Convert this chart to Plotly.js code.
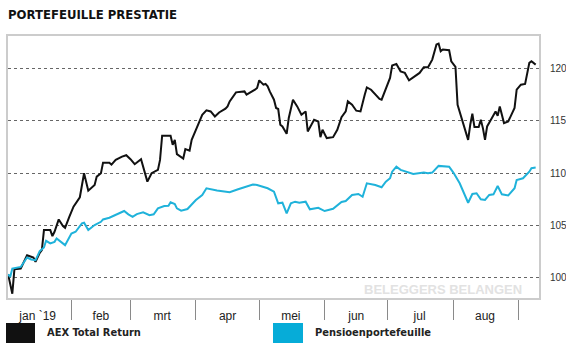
<!DOCTYPE html>
<html>
<head>
<meta charset="utf-8">
<script src="https://cdn.plot.ly/plotly-3.0.1.min.js"></script>
<style>
html,body{margin:0;padding:0;background:#fff;}
#chart{width:566px;height:351px;}
</style>
</head>
<body>
<div id="chart"></div>
<script>
const chartTitle = "PORTEFEUILLE PRESTATIE";
const seriesNames = ["AEX Total Return", "Pensioenportefeuille"];
const watermark = "BELEGGERS BELANGEN";

const monthStarts = ["2019-02-01","2019-03-01","2019-04-01","2019-05-01","2019-06-01","2019-07-01","2019-08-01","2019-09-01"];
const monthLabelDates = ["2019-01-16","2019-02-15","2019-03-16","2019-04-16","2019-05-16","2019-06-16","2019-07-16","2019-08-16"];
const monthLabels = ["jan `19","feb","mrt","apr","mei","jun","jul","aug"];
const yTicks = [100,105,110,115,120];

const aexDates = [
"2019-01-02","2019-01-04","2019-01-05","2019-01-08","2019-01-11","2019-01-14","2019-01-15","2019-01-17","2019-01-18","2019-01-19","2019-01-22","2019-01-23","2019-01-24","2019-01-26","2019-01-28","2019-01-29","2019-01-31",
"2019-02-02","2019-02-05","2019-02-07","2019-02-09","2019-02-12","2019-02-13","2019-02-15","2019-02-16","2019-02-19","2019-02-20","2019-02-22","2019-02-25","2019-02-27",
"2019-03-01","2019-03-03","2019-03-06","2019-03-07","2019-03-09","2019-03-11","2019-03-14","2019-03-15","2019-03-16","2019-03-20","2019-03-21","2019-03-22","2019-03-23","2019-03-26","2019-03-27","2019-03-29","2019-03-30",
"2019-04-01","2019-04-04","2019-04-06","2019-04-08","2019-04-10","2019-04-12","2019-04-15","2019-04-16","2019-04-17","2019-04-20","2019-04-24","2019-04-25","2019-04-29","2019-04-30",
"2019-05-01","2019-05-03","2019-05-04","2019-05-05","2019-05-06","2019-05-08","2019-05-09","2019-05-10","2019-05-11","2019-05-12","2019-05-14","2019-05-15","2019-05-17","2019-05-19","2019-05-21","2019-05-23","2019-05-24","2019-05-26","2019-05-27","2019-05-29","2019-05-30","2019-05-31",
"2019-06-02","2019-06-05","2019-06-06","2019-06-07","2019-06-09","2019-06-11","2019-06-12","2019-06-14","2019-06-16","2019-06-18","2019-06-20","2019-06-21","2019-06-23","2019-06-25","2019-06-27","2019-06-28","2019-06-30",
"2019-07-02","2019-07-03","2019-07-05","2019-07-07","2019-07-09","2019-07-11","2019-07-14","2019-07-16","2019-07-18","2019-07-20","2019-07-22","2019-07-24","2019-07-25","2019-07-26","2019-07-27","2019-07-30","2019-07-31",
"2019-08-02","2019-08-03","2019-08-06","2019-08-08","2019-08-09","2019-08-10","2019-08-11","2019-08-13","2019-08-14","2019-08-15","2019-08-16","2019-08-17","2019-08-19","2019-08-21","2019-08-22","2019-08-23","2019-08-25","2019-08-27","2019-08-30","2019-08-31",
"2019-09-02","2019-09-04","2019-09-06","2019-09-07","2019-09-09"
];
const aexValues = [
100.35,98.5,100.83,100.9,102.17,101.95,101.53,102.39,102.65,104.56,104.56,103.99,104.40,105.58,104.94,104.78,105.83,
106.79,107.69,109.98,108.32,108.86,109.66,109.98,110.99,110.99,110.80,111.25,111.57,111.70,
111.32,110.84,111.32,110.68,109.18,109.98,110.30,111.25,113.55,113.55,112.69,113.16,111.80,111.38,112.28,112.14,113.16,
114.12,115.55,115.97,115.87,115.39,115.77,116.13,116.35,116.83,117.69,117.78,117.47,117.94,118.11,
118.83,118.42,118.49,118.26,117.78,116.99,116.20,116.10,114.60,114.44,113.74,115.24,116.99,116.35,115.55,115.87,113.96,114.69,115.08,114.91,113.42,114.12,
113.33,113.42,113.80,114.12,115.33,115.87,116.83,116.51,115.94,115.87,117.47,118.16,117.94,117.47,117.06,116.99,117.94,
119.06,120.24,120.40,119.69,119.54,118.83,119.22,119.54,120.08,120.08,120.81,122.25,122.34,121.61,121.77,121.70,120.65,
120.11,116.51,114.44,113.16,114.60,115.65,114.38,114.38,115.08,114.28,113.16,114.44,115.14,115.87,115.46,116.35,114.76,114.91,116.20,117.94,
118.42,118.49,120.50,120.65,120.33
];

const pensDates = [
"2019-01-02","2019-01-03","2019-01-04","2019-01-08","2019-01-11","2019-01-13","2019-01-15","2019-01-17","2019-01-19","2019-01-20","2019-01-22","2019-01-24","2019-01-25","2019-01-29",
"2019-02-01","2019-02-03","2019-02-06","2019-02-07","2019-02-09","2019-02-12","2019-02-15","2019-02-16","2019-02-19","2019-02-22","2019-02-26","2019-02-28",
"2019-03-02","2019-03-04","2019-03-07","2019-03-10","2019-03-12","2019-03-14","2019-03-17","2019-03-19","2019-03-20","2019-03-22","2019-03-23","2019-03-25","2019-03-28","2019-03-29",
"2019-04-01","2019-04-04","2019-04-06","2019-04-11","2019-04-17","2019-04-21","2019-04-25","2019-04-28","2019-04-30",
"2019-05-05","2019-05-08","2019-05-10","2019-05-12","2019-05-14","2019-05-16","2019-05-18","2019-05-20","2019-05-23","2019-05-25","2019-05-27","2019-05-29",
"2019-06-01","2019-06-05","2019-06-09","2019-06-11","2019-06-14","2019-06-17","2019-06-19","2019-06-21","2019-06-25","2019-06-28","2019-06-30",
"2019-07-02","2019-07-03","2019-07-05","2019-07-07","2019-07-10","2019-07-13","2019-07-18","2019-07-20","2019-07-22","2019-07-25","2019-07-30",
"2019-08-01","2019-08-04","2019-08-06","2019-08-08","2019-08-10","2019-08-12","2019-08-14","2019-08-16","2019-08-18","2019-08-20","2019-08-22","2019-08-24","2019-08-27","2019-08-30","2019-08-31",
"2019-09-03","2019-09-06","2019-09-07","2019-09-09"
];
const pensValues = [
100.35,100.10,100.90,101.05,101.95,101.76,101.69,102.55,102.91,103.54,103.29,103.44,103.77,103.13,
104.24,104.40,105.20,105.26,104.56,105.04,105.35,105.58,105.74,105.99,106.38,106.06,
105.83,106.09,106.26,105.98,106.07,106.63,106.85,106.88,107.21,107.05,106.63,106.42,106.57,106.79,
107.43,107.91,108.55,108.34,108.17,108.45,108.70,108.91,108.86,
108.55,108.22,107.11,107.17,106.16,107.11,107.27,107.17,107.27,106.54,106.63,106.69,
106.38,106.59,107.24,107.33,107.91,108.00,107.74,109.02,108.86,108.64,109.18,
109.50,110.13,110.61,110.30,110.13,109.91,110.04,109.98,110.04,110.68,110.61,
110.04,109.02,108.07,107.17,108.00,108.07,107.50,107.43,107.91,107.97,108.77,107.97,107.86,108.55,109.34,
109.50,110.13,110.46,110.52
];

const colors = ["#111111", "#1fb2da"];
const legendColors = ["#111111", "#06acd8"];

const traces = [
  {x: aexDates, y: aexValues, name: seriesNames[0], type: "scatter", mode: "lines",
   line: {color: colors[0], width: 2}, showlegend: false, hoverinfo: "skip"},
  {x: pensDates, y: pensValues, name: seriesNames[1], type: "scatter", mode: "lines",
   line: {color: colors[1], width: 2}, showlegend: false, hoverinfo: "skip"}
];

const condensed = "'Liberation Sans Narrow', 'Arial Narrow', 'DejaVu Sans Condensed', sans-serif";

const layout = {
  width: 566, height: 351,
  margin: {l: 8, r: 27, t: 36, b: 53},
  paper_bgcolor: "#fff", plot_bgcolor: "#fff",
  title: {text: "<b>" + chartTitle + "</b>", x: 8/566, xref: "container", xanchor: "left",
          y: 1 - 14/351, yref: "container", yanchor: "middle",
          font: {family: condensed, size: 13, color: "#111"}},
  xaxis: {
    type: "date",
    range: ["2019-01-01 23:00", "2019-09-10 14:00"],
    tickmode: "array", tickvals: monthLabelDates, ticktext: monthLabels,
    ticks: "", ticklabelstandoff: 6,
    tickfont: {family: "'Liberation Sans', Arial, sans-serif", size: 12, color: "#222"},
    showgrid: false, zeroline: false,
    showline: true, linecolor: "#cccccc", linewidth: 2, mirror: true,
    minor: {tickmode: "array", tickvals: monthStarts, ticks: "outside", ticklen: 20, tickcolor: "#8a8a8a", tickwidth: 1, showgrid: false}
  },
  yaxis: {
    side: "right",
    range: [98.09, 123.06],
    tickmode: "array", tickvals: yTicks,
    ticks: "", ticklabelstandoff: 7,
    tickfont: {family: "'Liberation Sans', Arial, sans-serif", size: 10, color: "#333"},
    showgrid: true, gridcolor: "#666666", griddash: "dot", gridwidth: 1,
    zeroline: false,
    showline: true, linecolor: "#cccccc", linewidth: 2, mirror: true
  },
  shapes: [
    {type: "rect", xref: "paper", yref: "paper", x0: -2/531, x1: 27/531, y0: -45/262, y1: -25/262,
     fillcolor: legendColors[0], line: {width: 0}},
    {type: "rect", xref: "paper", yref: "paper", x0: 265/531, x1: 295/531, y0: -45/262, y1: -25/262,
     fillcolor: legendColors[1], line: {width: 0}}
  ],
  annotations: [
    {text: "<b>" + seriesNames[0] + "</b>", xref: "paper", yref: "paper", x: 37/531, y: -34/262,
     xanchor: "left", yanchor: "middle", showarrow: false,
     font: {family: condensed, size: 11, color: "#222"}},
    {text: "<b>" + seriesNames[1] + "</b>", xref: "paper", yref: "paper", x: 305/531, y: -34/262,
     xanchor: "left", yanchor: "middle", showarrow: false,
     font: {family: condensed, size: 11, color: "#222"}},
    {text: "<b>" + watermark + "</b>", xref: "paper", yref: "paper", x: 516/531, y: 9/262,
     xanchor: "right", yanchor: "middle", showarrow: false,
     font: {family: "'Liberation Sans', Arial, sans-serif", size: 13, color: "#e2e2e2"}}
  ]
};

Plotly.newPlot("chart", traces, layout, {displayModeBar: false, staticPlot: true});
</script>
</body>
</html>
